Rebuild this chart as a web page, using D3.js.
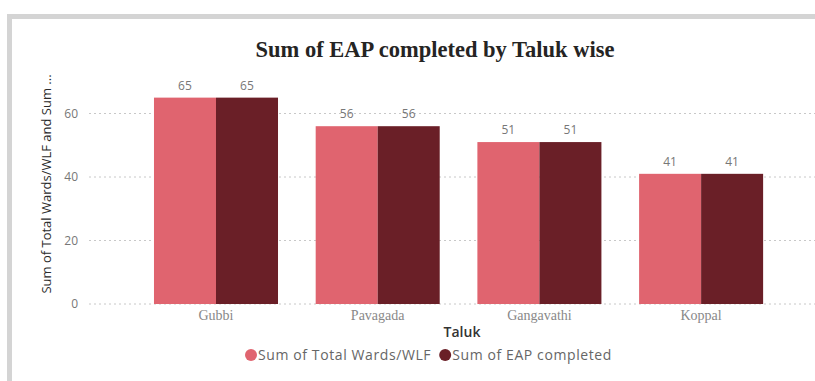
<!DOCTYPE html>
<html>
<head>
<meta charset="utf-8">
<script src="https://cdn.jsdelivr.net/npm/d3@7"></script>
<style>
  html, body { margin: 0; padding: 0; background: #fff; }
  svg { display: block; }
</style>
</head>
<body>
<svg id="chart" width="815" height="381"></svg>
<script>
// Chart data
const taluks = ["Gubbi", "Pavagada", "Gangavathi", "Koppal"];
const totalWards = [65, 56, 51, 41];
const eapCompleted = [65, 56, 51, 41];
const seriesNames = ["Sum of Total Wards/WLF", "Sum of EAP completed"];
const yTicks = [0, 20, 40, 60];

const colors = ["#e0646f", "#6a1f27"];

const svg = d3.select("#chart");

// Card frame
svg.append("rect").attr("x", 7).attr("y", 14).attr("width", 808).attr("height", 367).attr("fill", "#d4d4d4");
svg.append("rect").attr("x", 12).attr("y", 19).attr("width", 803).attr("height", 362).attr("fill", "#ffffff");

const x = d3.scaleBand()
  .domain(taluks)
  .range([89.3, 827.8])
  .paddingInner(0.233)
  .paddingOuter(0.4);

const xSeries = d3.scaleBand()
  .domain(seriesNames)
  .range([0, x.bandwidth()]);

const y = d3.scaleLinear()
  .domain([0, 60])
  .range([304, 113.5]);

// Gridlines
const grid = svg.append("g");
grid.selectAll("line")
  .data(yTicks)
  .join("line")
  .attr("x1", 89)
  .attr("x2", 815)
  .attr("y1", d => y(d))
  .attr("y2", d => y(d))
  .attr("stroke", "#c8c8c8")
  .attr("stroke-width", 1)
  .attr("stroke-dasharray", "2,3");

// Y axis tick labels
const yAxis = d3.axisLeft(y).tickValues(yTicks).tickSize(0).tickPadding(0);
svg.append("g")
  .attr("transform", "translate(78,0)")
  .call(yAxis)
  .call(g => g.select(".domain").remove())
  .selectAll("text")
  .attr("fill", "#777")
  .style("font-family", "'Open Sans', sans-serif")
  .style("font-size", "12px");

// Bars
const rows = taluks.map((t, i) => ({ taluk: t, values: [totalWards[i], eapCompleted[i]] }));
const groups = svg.append("g").selectAll("g")
  .data(rows)
  .join("g")
  .attr("transform", d => `translate(${x(d.taluk)},0)`);

groups.selectAll("rect")
  .data(d => d.values.map((v, k) => ({ name: seriesNames[k], value: v, k })))
  .join("rect")
  .attr("x", d => xSeries(d.name))
  .attr("width", xSeries.bandwidth())
  .attr("y", d => y(d.value))
  .attr("height", d => y(0) - y(d.value))
  .attr("fill", d => colors[d.k]);

groups.selectAll("text")
  .data(d => d.values.map((v, k) => ({ name: seriesNames[k], value: v })))
  .join("text")
  .attr("x", d => xSeries(d.name) + xSeries.bandwidth() / 2)
  .attr("y", d => y(d.value) - 8)
  .attr("text-anchor", "middle")
  .attr("fill", "#777")
  .style("font-family", "'Open Sans', sans-serif")
  .style("font-size", "12px")
  .text(d => d.value);

// X axis tick labels
const xAxis = d3.axisBottom(x).tickSize(0).tickPadding(0);
svg.append("g")
  .attr("transform", "translate(0,310)")
  .call(xAxis)
  .call(g => g.select(".domain").remove())
  .selectAll("text")
  .attr("fill", "#888")
  .style("font-family", "'Liberation Serif', serif")
  .style("font-size", "14px");

// Title
svg.append("text")
  .attr("x", 435)
  .attr("y", 57)
  .attr("text-anchor", "middle")
  .attr("fill", "#252423")
  .style("font-family", "'Liberation Serif', serif")
  .style("font-weight", "bold")
  .style("font-size", "22.5px")
  .text("Sum of EAP completed by Taluk wise");

// Axis titles
svg.append("text")
  .attr("x", 462)
  .attr("y", 337)
  .attr("text-anchor", "middle")
  .attr("fill", "#333")
  .style("font-family", "'Open Sans', sans-serif")
  .style("font-weight", "600")
  .style("font-size", "14px")
  .text("Taluk");

svg.append("text")
  .attr("transform", "translate(51,184) rotate(-90)")
  .attr("text-anchor", "middle")
  .attr("fill", "#2b2b2b")
  .style("font-family", "'Open Sans', sans-serif")
  .style("font-size", "13px")
  .text("Sum of Total Wards/WLF and Sum ...");

// Legend
const legend = svg.append("g").attr("transform", "translate(251,355)");
let lx = 0;
seriesNames.forEach((name, k) => {
  const item = legend.append("g").attr("transform", `translate(${lx},0)`);
  item.append("circle").attr("cx", 0).attr("cy", 0).attr("r", 6).attr("fill", colors[k]);
  const t = item.append("text")
    .attr("x", 7)
    .attr("y", 5)
    .attr("fill", "#666")
    .style("font-family", "'Open Sans', sans-serif")
    .style("font-size", "14px")
    .style("letter-spacing", "0.6px")
    .text(name);
  lx += 7 + t.node().getComputedTextLength() + 14;
});
</script>
</body>
</html>
